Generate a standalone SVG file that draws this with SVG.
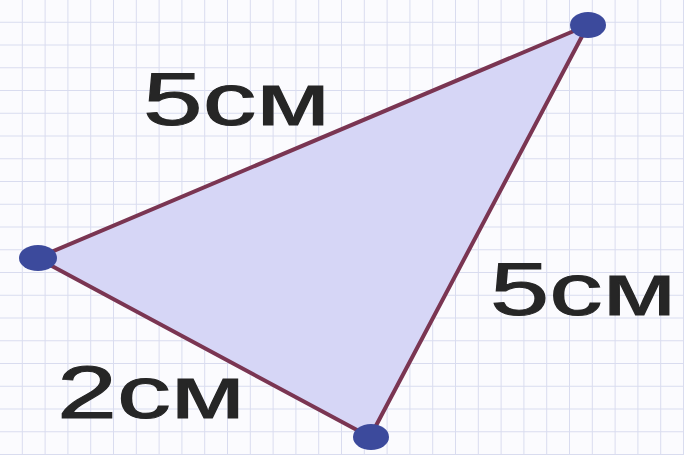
<svg xmlns="http://www.w3.org/2000/svg" width="684" height="455" viewBox="0 0 684 455">
<defs>
<pattern id="grid" width="22.8" height="22.75" patternUnits="userSpaceOnUse">
<path d="M22.8 0V22.75M0 22.75H22.8" fill="none" stroke="#d9dcef" stroke-width="2"/>
</pattern>
<style>
.lbl{font-family:"Liberation Sans",Arial,sans-serif;font-size:74px;fill:#262626;stroke:#262626;stroke-width:1}
.dot{fill:#3c4a9c}
</style>
</defs>
<rect width="684" height="455" fill="#fbfbfe"/>
<rect width="684" height="455" fill="url(#grid)"/>
<g id="triangle">
<polygon points="588,25 37,258 370,437" fill="#d6d6f6" stroke="#7a3552" stroke-width="4" stroke-linejoin="round"/>
</g>
<g id="vertices">
<ellipse class="dot" cx="588" cy="25" rx="18" ry="13"/>
<ellipse class="dot" cx="38" cy="258" rx="19" ry="13"/>
<ellipse class="dot" cx="371" cy="437" rx="18" ry="13"/>
</g>
<g id="labels">
<text class="lbl" x="143" y="125" textLength="187" lengthAdjust="spacingAndGlyphs">5см</text>
<text class="lbl" x="490" y="315" textLength="186" lengthAdjust="spacingAndGlyphs">5см</text>
<text class="lbl" x="57" y="418" textLength="188" lengthAdjust="spacingAndGlyphs">2см</text>
</g>
</svg>
